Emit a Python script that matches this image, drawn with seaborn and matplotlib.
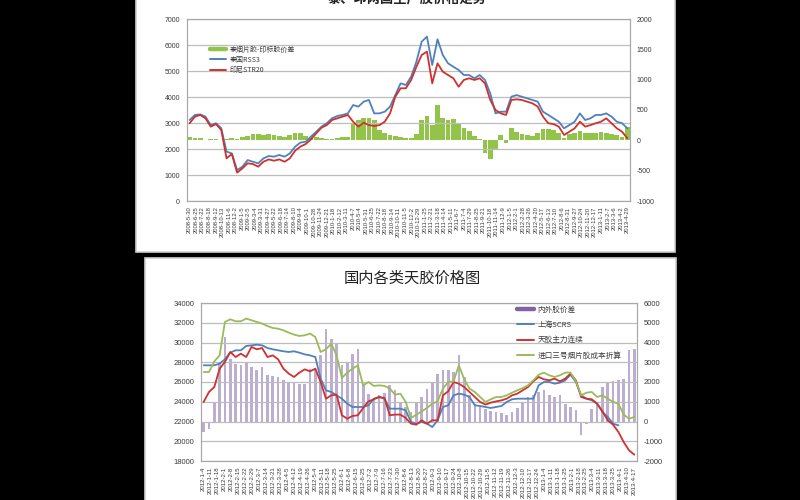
import numpy as np
import matplotlib
matplotlib.use("Agg")
import matplotlib.pyplot as plt
import seaborn as sns
from matplotlib.patches import Rectangle
from matplotlib.lines import Line2D

sns.set_style("white")
plt.rcParams['font.family'] = ['Noto Sans CJK SC', 'DejaVu Sans']

# ---------------- top chart data ----------------
top_title = "泰、印两国生产胶价格走势"
top_names = ["泰烟片胶-印标胶价差", "泰国RSS3", "印尼STR20"]
top_thai = [3115, 3310, 3330, 3245, 2920, 2990, 2795, 1900, 1830, 1190,
            1320, 1575, 1510, 1450, 1640, 1730, 1705, 1770, 1705, 1830,
            2090, 2245, 2280, 2475, 2665, 2860, 2990, 3180, 3270, 3310,
            3370, 3690, 3630, 3820, 3885, 3370, 3370, 3435, 3630, 4075,
            4525, 4460, 4780, 5360, 6130, 6320, 5230, 6220, 5615, 5295,
            5165, 5040, 4845, 4845, 4720, 4845, 4655, 4140, 3370, 3435,
            3435, 4010, 4075, 4010, 3950, 3885, 3820, 3435, 3310, 3180,
            3050, 2795, 2920, 3050, 3370, 3115, 3180, 3310, 3310, 3370,
            3245, 3050, 2990, 2795]
top_indo = [2990, 3245, 3310, 3180, 2860, 2960, 2730, 1640, 1810, 1090,
            1255, 1450, 1420, 1320, 1510, 1600, 1550, 1600, 1510, 1640,
            1935, 2090, 2190, 2370, 2600, 2820, 2920, 3115, 3180, 3245,
            3310, 3050, 2860, 3010, 2920, 2885, 2920, 3050, 3370, 4010,
            4335, 4335, 4655, 5165, 5615, 5745, 4525, 5295, 4975, 4845,
            4720, 4395, 4655, 4720, 4655, 4720, 4525, 3885, 3500, 3370,
            3310, 3885, 3910, 3885, 3820, 3755, 3630, 3245, 2990, 2960,
            2860, 2540, 2665, 2795, 3050, 2860, 2920, 2990, 3050, 3180,
            2990, 2795, 2665, 2410]
top_spread = [58, 44, 36, 8, 30, 25, 8, 30, 44, 30,
              58, 71, 99, 99, 91, 99, 80, 71, 63, 85,
              126, 113, 71, 58, 58, 44, 25, 16, 44, 58,
              58, 277, 332, 374, 360, 332, 168, 126, 85, 71,
              58, 44, 44, 99, 332, 401, 250, 580, 360, 332,
              346, 277, 209, 154, 71, 30, -217, -300, -162, 85,
              -52, 209, 140, 99, 85, 71, 113, 195, 181, 168,
              126, 44, 99, 126, 154, 126, 113, 126, 140, 126,
              99, 85, 58, 222]
top_dates = ["2008-5-30", "2008-6-25", "2008-7-22", "2008-8-18", "2008-9-12",
             "2008-10-13", "2008-11-6", "2008-12-2", "2009-1-5", "2009-2-5",
             "2009-3-4", "2009-3-31", "2009-4-27", "2009-5-22", "2009-6-18",
             "2009-7-14", "2009-8-10", "2009-9-4", "2009-10-1", "2009-10-28",
             "2009-11-24", "2009-12-21", "2010-1-18", "2010-2-12", "2010-3-11",
             "2010-4-7", "2010-5-4", "2010-5-31", "2010-6-25", "2010-7-22",
             "2010-8-18", "2010-9-14", "2010-10-11", "2010-11-5", "2010-12-2",
             "2010-12-29", "2011-1-25", "2011-2-21", "2011-3-18", "2011-4-14",
             "2011-5-11", "2011-6-7", "2011-7-4", "2011-7-29", "2011-8-25",
             "2011-9-21", "2011-10-18", "2011-11-14", "2011-12-9", "2012-1-5",
             "2012-2-1", "2012-2-28", "2012-3-26", "2012-4-20", "2012-5-17",
             "2012-6-13", "2012-7-10", "2012-8-6", "2012-8-31", "2012-9-27",
             "2012-10-24", "2012-11-20", "2012-12-17", "2013-1-11", "2013-2-7",
             "2013-3-6", "2013-4-2", "2013-4-29"]

# ---------------- bottom chart data ----------------
bot_title = "国内各类天胶价格图"
bot_names = ["内外胶价差", "上海SCRS", "天胶主力连续", "进口三号烟片胶成本折算"]
bot_scrs = [27690, 27690, 27690, 27860, 28300, 28970, 29210, 29210, 29650, 29710,
            29780, 29710, 29440, 29310, 29210, 29110, 29040, 29110, 28970, 28800,
            28700, 28530, 26340, 25160, 24990, 24650, 24310, 23810, 23470, 23470,
            23470, 23640, 24310, 24480, 24310, 23300, 23300, 23300, 23130, 21950,
            21780, 21950, 21780, 21440, 22120, 23470, 23640, 24650, 24820, 24720,
            24480, 23640, 23570, 23470, 23370, 23470, 23570, 23980, 24250, 24310,
            24310, 24310, 24310, 25660, 26000, 26000, 25830, 25930, 26170, 26740,
            26000, 24650, 24310, 24140, 23810, 22960, 22460, 21780, 21610, np.nan,
            np.nan, np.nan]
bot_main = [23980, 24990, 25490, 27350, 28030, 29040, 28530, 28870, 28530, 29550,
            29310, 29440, 28530, 28700, 28300, 27350, 26850, 26510, 26950, 27280,
            27080, 27350, 26000, 24310, 24650, 24720, 22630, 22290, 22560, 22630,
            23370, 24040, 24250, 24480, 24380, 22630, 22700, 22700, 22360, 21780,
            21680, 22120, 21780, 22120, 22120, 24650, 25060, 26000, 25830, 25490,
            24990, 24480, 23980, 23710, 23910, 24040, 24140, 24310, 24650, 24820,
            25160, 25490, 26070, 26510, 26270, 26170, 26340, 26070, 26340, 26850,
            26170, 24480, 24310, 24250, 23810, 23030, 22120, 21680, 20940, 19920,
            19080, 18640]
bot_import = [27010, 27010, 28090, 28700, 32080, 32350, 32150, 32150, 32420, 32250,
              32080, 31910, 31670, 31470, 31400, 31230, 31000, 30800, 30660, 30730,
              30900, 30560, 29040, 29310, 29880, 28700, 26410, 26950, 27350, 27690,
              25660, 26000, 25600, 25660, 25600, 25330, 24720, 24820, 23980, 22360,
              22690, 23030, 23370, 23810, 24040, 25330, 26000, 26070, 27690, 26270,
              25330, 24990, 24480, 23980, 24250, 24480, 24480, 24650, 24920, 25160,
              25390, 25660, 26170, 26740, 26950, 26680, 26510, 26680, 26950, 26950,
              26070, 24650, 24920, 24990, 24480, 24650, 24310, 23980, 23810, 22690,
              22290, 22460]
bot_spread = [-530, -360, 990, 3010, 4280, 3180, 2930, 2840, 3010, 2760,
              2590, 2760, 2340, 2300, 2250, 2080, 2000, 1970, 1920, 1920,
              2680, 2590, 3350, 4700, 4190, 3990, 2840, 3010, 3440, 3690,
              1920, 1410, 1160, 1360, 1460, 1830, 1580, 990, 730, 480,
              990, 1240, 1660, 2000, 2420, 2590, 2590, 2510, 3350, 2250,
              1330, 900, 730, 620, 510, 480, 450, 310, 480, 680,
              990, 1240, 1360, 1490, 1580, 1330, 1240, 1330, 900, 730,
              570, -700, -110, 650, 990, 1750, 2000, 2030, 2080, 2170,
              3600, 3690]
bot_dates = ["2012-1-4", "2012-1-11", "2012-1-18", "2012-2-1", "2012-2-8",
             "2012-2-15", "2012-2-22", "2012-2-29", "2012-3-7", "2012-3-14",
             "2012-3-21", "2012-3-28", "2012-4-5", "2012-4-12", "2012-4-19",
             "2012-4-26", "2012-5-4", "2012-5-11", "2012-5-18", "2012-5-25",
             "2012-6-1", "2012-6-8", "2012-6-15", "2012-6-25", "2012-7-2",
             "2012-7-9", "2012-7-16", "2012-7-23", "2012-7-30", "2012-8-6",
             "2012-8-13", "2012-8-20", "2012-8-27", "2012-9-3", "2012-9-10",
             "2012-9-17", "2012-9-24", "2012-10-8", "2012-10-15", "2012-10-22",
             "2012-10-29", "2012-11-5", "2012-11-12", "2012-11-19", "2012-11-26",
             "2012-12-3", "2012-12-10", "2012-12-17", "2012-12-24", "2013-1-4",
             "2013-1-11", "2013-1-18", "2013-1-25", "2013-2-1", "2013-2-18",
             "2013-2-25", "2013-3-4", "2013-3-11", "2013-3-18", "2013-3-25",
             "2013-4-1", "2013-4-10", "2013-4-17"]

BLUE = "#4f81bd"
RED = "#d0312d"
GREEN_BAR = "#92c44a"
GREEN_LINE = "#9bbb59"
PURPLE_BAR = "#bcaed0"
PURPLE = "#8064a2"
GRID = "#bdbdbd"
TXT = "#3a3a3a"

fig = plt.figure(figsize=(8, 5), dpi=100, facecolor="black")

def px_rect(x0, y0, x1, y1):
    return [x0 / 800, 1 - y1 / 500, (x1 - x0) / 800, (y1 - y0) / 500]

# white panels
for (x0, y0, x1, y1) in [(136, -10, 675, 252), (145, 258, 676, 520)]:
    r = px_rect(x0, y0, x1, y1)
    fig.patches.append(Rectangle((r[0], r[1]), r[2], r[3], transform=fig.transFigure,
                                 facecolor="white", edgecolor="#cfcfcf", lw=1.2, zorder=-5))


def build(rect, lines, bar, ylim, yticks, y2lim, y2ticks, dates, fs_tick, fs_date,
          fs_leg, leg_anchor, bar_width, leg_spacing):
    ax = fig.add_axes(px_rect(*rect))
    ax2 = ax.twinx()
    ax2.set_zorder(1)
    ax.set_zorder(2)
    ax.patch.set_visible(False)
    ax2.patch.set_visible(False)
    n = len(bar[1])
    idx = np.arange(n)
    sns.barplot(x=idx, y=bar[1], native_scale=True, color=bar[2], width=bar_width,
                errorbar=None, ax=ax2, linewidth=0, saturation=1)
    for name, vals, col in lines:
        sns.lineplot(x=idx, y=vals, color=col, lw=1.3, ax=ax, label=name, legend=False)
    ax.set_xlim(-0.5, n - 0.5)
    ax.set_ylim(*ylim)
    ax.set_yticks(yticks)
    ax.set_yticklabels([str(v) for v in yticks], fontsize=fs_tick, color=TXT,
                       family=["Liberation Sans", "DejaVu Sans"])
    ax2.set_ylim(*y2lim)
    ax2.set_yticks(y2ticks)
    ax2.set_yticklabels([str(v) for v in y2ticks], fontsize=fs_tick, color=TXT,
                        family=["Liberation Sans", "DejaVu Sans"])
    ax2.yaxis.set_ticks_position("right")
    ax.yaxis.grid(True, color=GRID, lw=0.9)
    ax.xaxis.grid(False)
    ax2.grid(False)
    ax.tick_params(axis="y", length=0, pad=5)
    ax2.tick_params(axis="y", length=0, pad=5, labelright=True, labelleft=False)
    pos = np.linspace(0, n - 1, len(dates))
    ax.set_xticks(pos)
    ax.set_xticklabels(dates, rotation=90, fontsize=fs_date, color=TXT,
                       family=["Liberation Sans", "DejaVu Sans"])
    ax.tick_params(axis="x", length=2, pad=2, color=GRID)
    ax2.tick_params(axis="x", labelbottom=False, bottom=False)
    ax.set_xlim(-0.5, n - 0.5)
    ax.set_xlabel("")
    ax.set_ylabel("")
    ax2.set_xlabel("")
    ax2.set_ylabel("")
    for a in (ax, ax2):
        for s in a.spines.values():
            s.set_color("#a8a8a8")
            s.set_linewidth(0.8)
    handles = [Line2D([0], [0], color=bar[3], lw=3.2)]
    handles += [Line2D([0], [0], color=c, lw=1.4) for _, _, c in lines]
    labels = [bar[0]] + [l[0] for l in lines]
    leg = ax.legend(handles, labels, loc="upper left", bbox_to_anchor=leg_anchor,
                    bbox_transform=fig.transFigure, frameon=False, fontsize=fs_leg,
                    handlelength=2.2, handletextpad=0.5, labelspacing=leg_spacing,
                    borderpad=0)
    for t in leg.get_texts():
        t.set_color(TXT)
    return ax, ax2


build((187, 19, 630, 201),
      [(top_names[1], top_thai, BLUE), (top_names[2], top_indo, RED)],
      (top_names[0], top_spread, GREEN_BAR, GREEN_BAR),
      (0, 7000), list(range(0, 7001, 1000)),
      (-1000, 2000), list(range(-1000, 2001, 500)),
      top_dates, 5, 4.2, 5, (207 / 800, 1 - 42 / 500), 0.9, 0.35)

build((201, 303, 637, 461),
      [(bot_names[1], bot_scrs, BLUE), (bot_names[2], bot_main, RED),
       (bot_names[3], bot_import, GREEN_LINE)],
      (bot_names[0], bot_spread, PURPLE_BAR, PURPLE),
      (18000, 34000), list(range(18000, 34001, 2000)),
      (-2000, 6000), list(range(-2000, 6001, 1000)),
      bot_dates, 5.5, 4.4, 5.5, (513 / 800, 1 - 302 / 500), 0.5, 0.95)

fig.text(407 / 800, 1 + 1 / 500, top_title, ha="center", va="center",
         fontsize=9.5, fontweight="bold", color="#222222")
fig.text(412 / 800, 1 - 278 / 500, bot_title, ha="center", va="center",
         fontsize=11, color="#222222")

fig.savefig("out.png", dpi=100, facecolor="black")
